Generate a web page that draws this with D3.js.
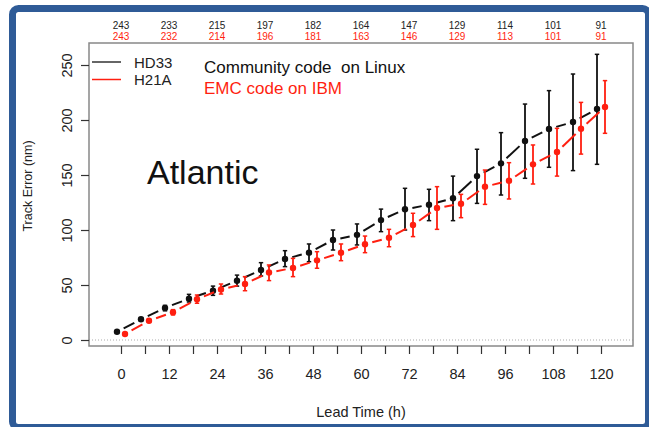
<!DOCTYPE html>
<html>
<head>
<meta charset="utf-8">
<script src="https://cdn.jsdelivr.net/npm/d3@7"></script>
<style>
  html, body { margin: 0; padding: 0; background: #fff; }
  svg { display: block; font-family: "Liberation Sans", Arial, Helvetica, sans-serif; }
</style>
</head>
<body>
<svg id="chart" width="649" height="427"></svg>
<script>
// ---- data ----
const hours = [0, 6, 12, 18, 24, 30, 36, 42, 48, 54, 60, 66, 72, 78, 84, 90, 96, 102, 108, 114, 120];

const hd33Mean = [7.5, 18.8, 29.2, 37.6, 44.8, 53.8, 63.6, 73.6, 79.4, 90.9, 95.6, 109, 118.8, 123, 128.8, 149, 160.6, 180.9, 191.8, 198.2, 210];
const hd33Low  = [6.5, 17.3, 26.5, 34.5, 40.6, 49, 58.2, 66.7, 71.2, 81.8, 86.4, 98.5, 100, 108.5, 108.5, 124.2, 131.8, 147, 157, 154, 159.7];
const hd33High = [8.5, 20.3, 31.5, 41.5, 49, 59, 70.3, 81.2, 87.3, 100, 105.5, 119, 137.9, 137, 149, 173.4, 188.5, 214.5, 226.7, 241.8, 259.7];

const h21aMean = [5.5, 17.5, 25.2, 37, 46, 51, 61.3, 65.5, 72.4, 79.3, 87, 93, 104.5, 120, 123.8, 139.4, 144.8, 159.7, 170.9, 192.1, 211.8];
const h21aLow  = [4.5, 16, 22.8, 33.4, 41.8, 44.8, 54, 57.6, 65.2, 72.1, 79.4, 84.8, 94, 100.6, 111.2, 123.3, 128.2, 141.8, 149, 169, 187.9];
const h21aHigh = [6.5, 19, 27.6, 40.9, 50.9, 57.6, 68.2, 74.2, 80.3, 87.3, 94.5, 100.6, 115.2, 139.4, 132.4, 154.5, 161.2, 177.3, 192.4, 216, 235.8];

const countHours = [0, 12, 24, 36, 48, 60, 72, 84, 96, 108, 120];
const hd33Counts = [243, 233, 215, 197, 182, 164, 147, 129, 114, 101, 91];
const h21aCounts = [243, 232, 214, 196, 181, 163, 146, 129, 113, 101, 91];

const xTicks = [0, 6, 12, 18, 24, 30, 36, 42, 48, 54, 60, 66, 72, 78, 84, 90, 96, 102, 108, 114, 120];
const xTickLabels = [0, 12, 24, 36, 48, 60, 72, 84, 96, 108, 120];
const yTicks = [0, 50, 100, 150, 200, 250];

// ---- drawing ----
const svg = d3.select("#chart");
const BLACK = "#111", RED = "#ff1f10";

// frame
svg.append("rect").attr("x", 12.5).attr("y", 8.5).attr("width", 636).attr("height", 419)
  .attr("rx", 6).attr("fill", "#fff").attr("stroke", "#2f5b97").attr("stroke-width", 7);

const x = d3.scaleLinear().domain([0, 120]).range([121, 601]);
const y = d3.scaleLinear().domain([0, 250]).range([340, 65]);
const box = { x0: 89, x1: 633, y0: 43, y1: 346 };

// zero dotted line
svg.append("line").attr("x1", box.x0).attr("x2", box.x1).attr("y1", y(0)).attr("y2", y(0))
  .attr("stroke", "#aaa").attr("stroke-width", 1).attr("stroke-dasharray", "1,2");

// plot box
svg.append("rect").attr("x", box.x0).attr("y", box.y0).attr("width", box.x1 - box.x0).attr("height", box.y1 - box.y0)
  .attr("fill", "none").attr("stroke", "#888").attr("stroke-width", 1.5);

// x axis
const xAxis = d3.axisBottom(x).tickValues(xTicks).tickSize(8).tickFormat(d => xTickLabels.includes(d) ? d : "");
const gx = svg.append("g").attr("transform", `translate(0,${box.y1})`).call(xAxis);
gx.select(".domain").remove();
gx.selectAll(".tick line").attr("stroke", "#333").attr("stroke-width", 1.2);
gx.selectAll(".tick text").attr("font-size", 14.5).attr("fill", "#222").attr("y", 0).attr("dy", "32.5")
  .attr("font-family", "Liberation Sans, Arial, sans-serif");

// y axis
const yAxis = d3.axisLeft(y).tickValues(yTicks).tickSize(8).tickFormat(d3.format("d"));
const gy = svg.append("g").attr("transform", `translate(${box.x0},0)`).call(yAxis);
gy.select(".domain").remove();
gy.selectAll(".tick line").attr("stroke", "#333").attr("stroke-width", 1.2);
gy.selectAll(".tick text").attr("font-size", 14.5).attr("fill", "#222")
  .attr("x", null).attr("dy", null)
  .attr("text-anchor", "middle")
  .attr("transform", "translate(-22,0) rotate(-90)")
  .attr("y", 0).attr("dy", "0.35em")
  .attr("font-family", "Liberation Sans, Arial, sans-serif");

// axis titles
svg.append("text").attr("x", 361).attr("y", 417).attr("text-anchor", "middle")
  .attr("font-size", 14.5).attr("fill", "#222").text("Lead Time (h)");
svg.append("text").attr("transform", "translate(31.5,186) rotate(-90)").attr("text-anchor", "middle")
  .attr("font-size", 12.5).attr("fill", "#222").text("Track Error (nm)");

// counts on top
svg.append("g").selectAll("text").data(countHours).join("text")
  .attr("x", d => x(d)).attr("y", 28.5).attr("text-anchor", "middle")
  .attr("font-size", 10).attr("fill", "#222").text((d, i) => hd33Counts[i]);
svg.append("g").selectAll("text").data(countHours).join("text")
  .attr("x", d => x(d)).attr("y", 40).attr("text-anchor", "middle")
  .attr("font-size", 10).attr("fill", RED).text((d, i) => h21aCounts[i]);

// series
function drawSeries(mean, low, high, offset, color) {
  const pts = hours.map((h, i) => ({ px: x(h + offset), py: y(mean[i]), lo: y(low[i]), hi: y(high[i]) }));
  const g = svg.append("g");
  // broken line segments (gap around points)
  const gap = 7.5;
  const segs = d3.pairs(pts);
  g.selectAll("line.seg").data(segs).join("line").attr("class", "seg")
    .each(function ([a, b]) {
      const dx = b.px - a.px, dy = b.py - a.py, L = Math.hypot(dx, dy);
      const ux = dx / L, uy = dy / L;
      d3.select(this).attr("x1", a.px + ux * gap).attr("y1", a.py + uy * gap)
        .attr("x2", b.px - ux * gap).attr("y2", b.py - uy * gap);
    })
    .attr("stroke", color).attr("stroke-width", 2);
  // error bars
  g.selectAll("line.eb").data(pts).join("line").attr("class", "eb")
    .attr("x1", d => d.px).attr("x2", d => d.px).attr("y1", d => d.lo).attr("y2", d => d.hi)
    .attr("stroke", color).attr("stroke-width", 1.8);
  g.selectAll("line.capt").data(pts).join("line").attr("class", "capt")
    .attr("x1", d => d.px - 2.2).attr("x2", d => d.px + 2.2).attr("y1", d => d.hi).attr("y2", d => d.hi)
    .attr("stroke", color).attr("stroke-width", 1.5);
  g.selectAll("line.capb").data(pts).join("line").attr("class", "capb")
    .attr("x1", d => d.px - 2.2).attr("x2", d => d.px + 2.2).attr("y1", d => d.lo).attr("y2", d => d.lo)
    .attr("stroke", color).attr("stroke-width", 1.5);
  g.selectAll("circle").data(pts).join("circle")
    .attr("cx", d => d.px).attr("cy", d => d.py).attr("r", 3.2).attr("fill", color);
}
drawSeries(hd33Mean, hd33Low, hd33High, -1, BLACK);
drawSeries(h21aMean, h21aLow, h21aHigh, 1, RED);

// legend
svg.append("line").attr("x1", 92).attr("x2", 121).attr("y1", 62).attr("y2", 62).attr("stroke", "#333").attr("stroke-width", 1.5);
svg.append("line").attr("x1", 92).attr("x2", 121).attr("y1", 79.5).attr("y2", 79.5).attr("stroke", RED).attr("stroke-width", 1.5);
svg.append("text").attr("x", 134).attr("y", 67.5).attr("font-size", 15).attr("fill", "#222").text("HD33");
svg.append("text").attr("x", 134).attr("y", 85).attr("font-size", 15).attr("fill", "#222").text("H21A");

// annotations
svg.append("text").attr("x", 204).attr("y", 72.5).attr("font-size", 17).attr("fill", "#111").attr("xml:space", "preserve").style("white-space", "pre").text("Community code  on Linux");
svg.append("text").attr("x", 204).attr("y", 94).attr("font-size", 17).attr("fill", RED).text("EMC code on IBM");
svg.append("text").attr("x", 147).attr("y", 184).attr("font-size", 34).attr("fill", "#111").text("Atlantic");
</script>
</body>
</html>
